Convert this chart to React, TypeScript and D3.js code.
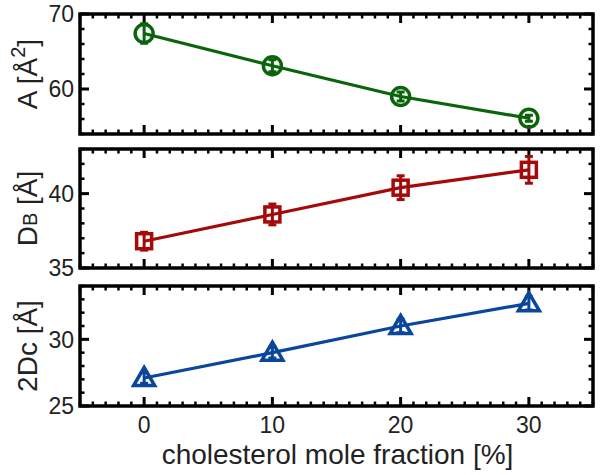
import React from "react";
import * as d3 from "d3";

const xValues = [0, 10, 20, 30];
const areaValues = [67.4, 63.1, 59.0, 56.1];
const areaErr = [1.3, 0.8, 0.6, 0.4];
const dbValues = [36.8, 38.6, 40.4, 41.6];
const dbErr = [0.6, 0.7, 0.8, 0.9];
const dcValues = [27.1, 29.0, 31.0, 32.7];
const dcErr = [0.4, 0.4, 0.5, 0.5];
const xTicks = [0, 10, 20, 30];
const areaTicks = [60, 70];
const dbTicks = [35, 40];
const dcTicks = [25, 30];

const W = 602;
const H = 475;
const left = 80;
const right = 593;
const FONT = "'Liberation Sans', Arial, sans-serif";

type Panel = {
  values: number[];
  errs: number[];
  ticks: number[];
  domain: [number, number];
  minorStep: number;
  top: number;
  bottom: number;
  color: string;
  marker: "circle" | "square" | "triangle";
  label: React.ReactNode;
};

const panels: Panel[] = [
  {
    values: areaValues,
    errs: areaErr,
    ticks: areaTicks,
    domain: [54, 70],
    minorStep: 2,
    top: 14,
    bottom: 134,
    color: "#0a640a",
    marker: "circle",
    label: (
      <>
        A [Å<tspan dy={-12} fontSize={20}>2</tspan>
        <tspan dy={12}>]</tspan>
      </>
    ),
  },
  {
    values: dbValues,
    errs: dbErr,
    ticks: dbTicks,
    domain: [35, 43],
    minorStep: 1,
    top: 149,
    bottom: 268,
    color: "#a50a0a",
    marker: "square",
    label: (
      <>
        D<tspan fontSize={20}>B</tspan> [Å]
      </>
    ),
  },
  {
    values: dcValues,
    errs: dcErr,
    ticks: dcTicks,
    domain: [25, 34],
    minorStep: 1,
    top: 286,
    bottom: 406,
    color: "#0a469b",
    marker: "triangle",
    label: <>2Dc [Å]</>,
  },
];

const x = d3.scaleLinear().domain([-5, 35]).range([left, right]);
const xMinor = d3.range(-5, 36, 1);

function Marker({ kind, cx, cy, color }: { kind: string; cx: number; cy: number; color: string }) {
  if (kind === "circle") {
    return <circle cx={cx} cy={cy} r={9} fill="none" stroke={color} strokeWidth={3.5} />;
  }
  if (kind === "square") {
    return <rect x={cx - 7.5} y={cy - 7.5} width={15} height={15} fill="none" stroke={color} strokeWidth={3.5} />;
  }
  const s = 10;
  const p = [
    [cx, cy - s * 1.05],
    [cx + s * 1.05, cy + s * 0.75],
    [cx - s * 1.05, cy + s * 0.75],
  ];
  return (
    <path
      d={`M${p[0][0]},${p[0][1]}L${p[1][0]},${p[1][1]}L${p[2][0]},${p[2][1]}Z`}
      fill="none"
      stroke={color}
      strokeWidth={3.5}
      strokeLinejoin="miter"
    />
  );
}

function PanelView({ p }: { p: Panel }) {
  const y = d3.scaleLinear().domain(p.domain).range([p.bottom, p.top]);
  const yMinor = d3.range(p.domain[0], p.domain[1] + 0.001, p.minorStep);
  const line = d3
    .line<number>()
    .x((_, i) => x(xValues[i]))
    .y((d) => y(d));
  const cy = (p.top + p.bottom) / 2;
  return (
    <g>
      {xMinor.map((t) => {
        const major = xTicks.includes(t);
        const len = major ? 9 : 4.5;
        return (
          <g key={"x" + t} stroke="#000" strokeWidth={major ? 3 : 2.5}>
            <line x1={x(t)} x2={x(t)} y1={p.bottom} y2={p.bottom - len} />
            <line x1={x(t)} x2={x(t)} y1={p.top} y2={p.top + len} />
          </g>
        );
      })}
      {yMinor.map((t) => {
        const major = p.ticks.includes(t);
        const len = major ? 9 : 4.5;
        return (
          <g key={"y" + t} stroke="#000" strokeWidth={major ? 3 : 2.5}>
            <line x1={left} x2={left + len} y1={y(t)} y2={y(t)} />
            <line x1={right} x2={right - len} y1={y(t)} y2={y(t)} />
          </g>
        );
      })}
      <rect x={left} y={p.top} width={right - left} height={p.bottom - p.top} fill="none" stroke="#000" strokeWidth={3.5} />
      {p.ticks.map((t) => (
        <text
          key={"l" + t}
          x={left - 6}
          y={y(t)}
          dy="0.36em"
          textAnchor="end"
          fontSize={23}
          fontFamily={FONT}
          fill="#222"
        >
          {t}
        </text>
      ))}
      <text
        transform={`translate(37,${cy}) rotate(-90)`}
        textAnchor="middle"
        fontSize={28}
        fontFamily={FONT}
        fill="#222"
      >
        {p.label}
      </text>
      <path d={line(p.values) || ""} fill="none" stroke={p.color} strokeWidth={3.2} />
      {p.values.map((v, i) => {
        const cx = x(xValues[i]);
        const y1 = y(v - p.errs[i]);
        const y2 = y(v + p.errs[i]);
        return (
          <g key={"e" + i} stroke={p.color} strokeWidth={3}>
            <line x1={cx} x2={cx} y1={y1} y2={y2} />
            <line x1={cx - 4} x2={cx + 4} y1={y1} y2={y1} />
            <line x1={cx - 4} x2={cx + 4} y1={y2} y2={y2} />
          </g>
        );
      })}
      {p.values.map((v, i) => (
        <Marker key={"m" + i} kind={p.marker} cx={x(xValues[i])} cy={y(v)} color={p.color} />
      ))}
    </g>
  );
}

export default function App() {
  return (
    <svg
      width={W}
      height={H}
      style={{ position: "absolute", left: 0, top: 0, background: "#fff" }}
    >
      {panels.map((p, i) => (
        <PanelView key={i} p={p} />
      ))}
      {xTicks.map((t) => (
        <text
          key={"xt" + t}
          x={x(t)}
          y={433}
          textAnchor="middle"
          fontSize={23}
          fontFamily={FONT}
          fill="#222"
        >
          {t}
        </text>
      ))}
      <text x={(left + right) / 2 + 1} y={464} textAnchor="middle" fontSize={28} fontFamily={FONT} fill="#222">
        cholesterol mole fraction [%]
      </text>
    </svg>
  );
}
